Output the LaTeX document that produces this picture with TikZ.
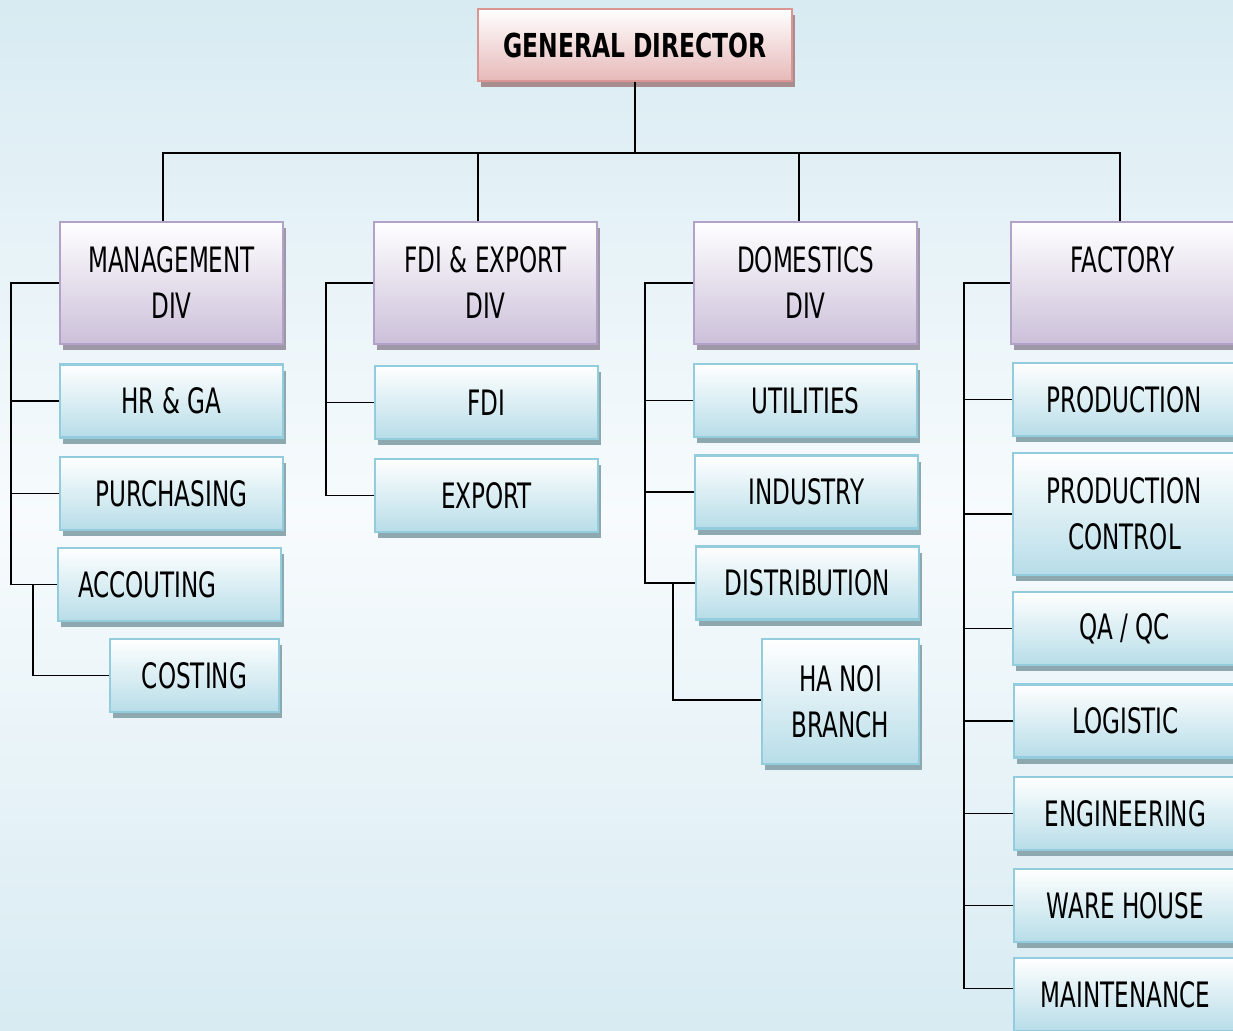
\documentclass[tikz,border=0pt]{standalone}
\usepackage{fontspec}
\setmainfont{DejaVu Sans}[FakeStretch=0.66]
\newfontfamily\headfont{DejaVu Sans}[FakeStretch=0.71]
\usetikzlibrary{shadows}

\definecolor{bgtop}{HTML}{D8EBF2}
\definecolor{bgmid}{HTML}{F7FBFD}
\definecolor{pinkline}{HTML}{D99694}
\definecolor{pinkfill}{HTML}{E6B9B8}
\definecolor{pinkshadow}{HTML}{A88D8F}
\definecolor{purpline}{HTML}{B3A2C7}
\definecolor{purpfill}{HTML}{CCC0DA}
\definecolor{purpshadow}{HTML}{9E97A6}
\definecolor{blueline}{HTML}{93CDDD}
\definecolor{bluefill}{HTML}{B7DDE8}
\definecolor{blueshadow}{HTML}{8DA8AF}

\tikzset{
  box/.style={rectangle, line width=2.5pt, minimum width=223pt, inner sep=0pt,
    align=center, font=\fontsize{35}{46}\selectfont},
  headbox/.style={box, draw=pinkline, top color=white, bottom color=pinkfill,
    minimum width=314pt, minimum height=72pt, font=\headfont\bfseries\fontsize{33}{40}\selectfont,
    drop shadow={shadow xshift=3pt, shadow yshift=-6pt, fill=pinkshadow, opacity=1}},
  divbox/.style={box, draw=purpline, top color=white, bottom color=purpfill,
    minimum height=122pt,
    drop shadow={shadow xshift=3pt, shadow yshift=-6pt, fill=purpshadow, opacity=1}},
  unitbox/.style={box, draw=blueline, top color=white, bottom color=bluefill,
    minimum height=73pt,
    drop shadow={shadow xshift=3pt, shadow yshift=-6pt, fill=blueshadow, opacity=1}},
  link/.style={line width=1.6pt}
}

\begin{document}
\begin{tikzpicture}[x=1pt,y=-1pt]
  \useasboundingbox (0,0) rectangle (1233,1030);
  \clip (0,0) rectangle (1233,1030);
  \fill[top color=bgtop, bottom color=bgtop, middle color=bgmid] (0,0) rectangle (1233,1030);

  % top
  \node[headbox] (gd) at (635,45) {GENERAL DIRECTOR};

  % divisions
  \node[divbox] (mgmt) at (171.5,283) {MANAGEMENT\\DIV};
  \node[divbox] (fdiexp) at (485.5,283) {FDI \& EXPORT\\DIV};
  \node[divbox] (dom) at (805.5,283) {DOMESTICS\\DIV};
  \node[divbox] (fac) at (1122.5,283) {FACTORY\\\phantom{DIV}};

  % management
  \node[unitbox] (hr) at (171.5,401) {HR \& GA};
  \node[unitbox] (pur) at (171.5,493.5) {PURCHASING};
  \node[unitbox, text width=183pt, align=left, inner xsep=20pt] (acc) at (169.5,584.5) {ACCOUTING};
  \node[unitbox, minimum width=169pt] (cost) at (194.5,675.5) {COSTING};

  % fdi & export
  \node[unitbox] (fdi) at (486.5,402.5) {FDI};
  \node[unitbox] (exp) at (486.5,495.5) {EXPORT};

  % domestics
  \node[unitbox] (util) at (805.5,400.5) {UTILITIES};
  \node[unitbox] (ind) at (806.5,492) {INDUSTRY};
  \node[unitbox] (dist) at (807.5,583) {DISTRIBUTION};
  \node[unitbox, minimum width=157pt, minimum height=125pt] (hanoi) at (840.5,701.5) {HA NOI\\BRANCH};

  % factory
  \node[unitbox] (prod) at (1124.5,399.5) {PRODUCTION};
  \node[unitbox, minimum height=122pt] (pctrl) at (1124.5,514) {PRODUCTION\\CONTROL};
  \node[unitbox] (qa) at (1124.5,628.5) {QA / QC};
  \node[unitbox] (logi) at (1125.5,721) {LOGISTIC};
  \node[unitbox] (eng) at (1125.5,813.5) {ENGINEERING};
  \node[unitbox] (ware) at (1125.5,905.5) {WARE HOUSE};
  \node[unitbox] (maint) at (1125.5,994.5) {MAINTENANCE};

  \coordinate (bus) at (635,153);
  \coordinate (ml) at (11,0);
  \coordinate (ms) at (33,0);
  \coordinate (fl) at (326,0);
  \coordinate (dl) at (645,0);
  \coordinate (ds) at (673,0);
  \coordinate (kl) at (964,0);

  \draw[link] (gd.south) -- (gd.south |- bus);
  \draw[link] ([xshift=-8.5pt]mgmt.north) |- (bus) -| ([xshift=-2.5pt]fac.north);
  \draw[link] ([xshift=-7.5pt]fdiexp.north) -- ([xshift=-7.5pt]fdiexp.north |- bus);
  \draw[link] ([xshift=-6.5pt]dom.north) -- ([xshift=-6.5pt]dom.north |- bus);

  \draw[link] (mgmt.west) -- (mgmt.west -| ml) |- (acc.west);
  \draw[link] (hr.west) -- (hr.west -| ml);
  \draw[link] (pur.west) -- (pur.west -| ml);
  \draw[link] (acc.west -| ms) |- (cost.west);

  \draw[link] (fdiexp.west) -- (fdiexp.west -| fl) |- (exp.west);
  \draw[link] (fdi.west) -- (fdi.west -| fl);

  \draw[link] (dom.west) -- (dom.west -| dl) |- (dist.west);
  \draw[link] (util.west) -- (util.west -| dl);
  \draw[link] (ind.west) -- (ind.west -| dl);
  \draw[link] (dist.west -| ds) |- ([yshift=1.5pt]hanoi.west);

  \draw[link] (fac.west) -- (fac.west -| kl) |- ([yshift=6pt]maint.west);
  \foreach \n in {prod,pctrl,qa,logi,eng,ware}
    \draw[link] (\n.west) -- (\n.west -| kl);
\end{tikzpicture}
\end{document}
